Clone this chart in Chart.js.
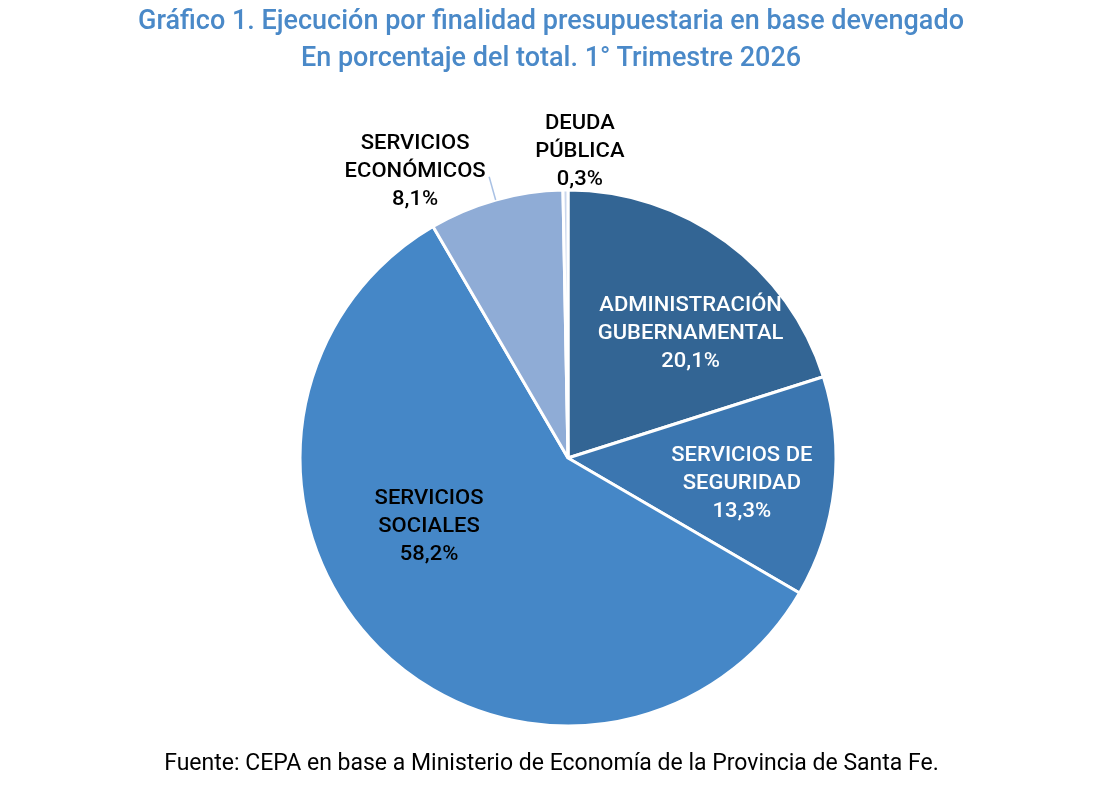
<!DOCTYPE html>
<html>
<head>
<meta charset="utf-8">
<script src="https://cdn.jsdelivr.net/npm/chart.js@4/dist/chart.umd.min.js"></script>
<style>
  html, body { margin: 0; padding: 0; background: #fff; }
  #wrap { position: relative; width: 1110px; height: 786px; font-family: Roboto, sans-serif; }
  #wrap canvas { position: absolute; left: 0; top: 0; }
  #title { position: absolute; left: 0; top: 1.5px; width: 1102px; text-align: center;
           font-size: 27px; font-weight: 500; line-height: 37px; color: #4A89C8; }
  #source { position: absolute; left: 0; top: 749px; width: 1103px; text-align: center;
            font-size: 23px; font-weight: 400; line-height: 28px; color: #000; }
</style>
</head>
<body>
<div id="wrap">
  <canvas id="chart1" width="1110" height="786"></canvas>
  <div id="title">Gráfico 1. Ejecución por finalidad presupuestaria en base devengado<br>En porcentaje del total. 1° Trimestre 2026</div>
  <div id="source">Fuente: CEPA en base a Ministerio de Economía de la Provincia de Santa Fe.</div>
</div>
<script>
const categories = [
    ['ADMINISTRACIÓN', 'GUBERNAMENTAL'],
    ['SERVICIOS DE', 'SEGURIDAD'],
    ['SERVICIOS', 'SOCIALES'],
    ['SERVICIOS', 'ECONÓMICOS'],
    ['DEUDA', 'PÚBLICA']
];
const shares = [20.1, 13.3, 58.2, 8.1, 0.3];
const sliceColors = ['#336594', '#3B76B0', '#4587C7', '#8FACD6', '#C9D6EC'];

// where each label sits: angle from top (deg, clockwise) and distance as fraction of radius
const labelPlace = [
    { angle: 44.3, r: 0.655, color: '#ffffff' },
    { angle: 97.9, r: 0.655, color: '#ffffff' },
    { angle: 244.4, r: 0.575, color: '#000000' },
    { angle: 332.0, r: 1.215, color: '#000000', leader: true },
    { angle: 2.2, r: 1.15, color: '#000000' }
];

const pieLabels = {
    id: 'pieLabels',
    afterDatasetsDraw(chart) {
        const ctx = chart.ctx;
        const meta = chart.getDatasetMeta(0);
        ctx.save();
        ctx.font = '500 20px Roboto';
        ctx.textAlign = 'center';
        ctx.textBaseline = 'middle';
        meta.data.forEach(function(arc, i) {
            const p = arc.getProps(['x', 'y', 'startAngle', 'endAngle', 'outerRadius'], true);
            const place = labelPlace[i];
            if (place.leader) {
                const mid = (p.startAngle + p.endAngle) / 2;
                ctx.strokeStyle = '#A9C1E4';
                ctx.lineWidth = 1.5;
                ctx.beginPath();
                ctx.moveTo(p.x + Math.cos(mid) * p.outerRadius * 1.0, p.y + Math.sin(mid) * p.outerRadius * 1.0);
                ctx.lineTo(p.x + Math.cos(mid) * p.outerRadius * 1.09, p.y + Math.sin(mid) * p.outerRadius * 1.09);
                ctx.stroke();
            }
            const a = place.angle * Math.PI / 180;
            const cx = p.x + Math.sin(a) * p.outerRadius * place.r;
            const cy = p.y - Math.cos(a) * p.outerRadius * place.r + 2;
            const lines = categories[i].concat([shares[i].toFixed(1).replace('.', ',') + '%']);
            const lh = 28;
            ctx.fillStyle = place.color;
            lines.forEach(function(t, k) {
                ctx.save();
                ctx.translate(cx, cy + (k - (lines.length - 1) / 2) * lh);
                ctx.scale(1.1, 1);  // reference text is a bit wide
                ctx.fillText(t, 0, 0);
                ctx.restore();
            });
        });
        ctx.restore();
    }
};

const ctx = document.getElementById('chart1').getContext('2d');
new Chart(ctx, {
    type: 'pie',
    data: {
        labels: categories.map(c => c.join(' ')),
        datasets: [{
            data: shares,
            backgroundColor: sliceColors,
            borderColor: '#ffffff',
            borderWidth: 3
        }]
    },
    options: {
        responsive: false,
        animation: false,
        radius: 268,
        layout: { padding: { left: 26, right: 0, top: 140, bottom: 10 } },
        plugins: {
            legend: { display: false },
            tooltip: { enabled: false }
        }
    },
    plugins: [pieLabels]
});
</script>
</body>
</html>
